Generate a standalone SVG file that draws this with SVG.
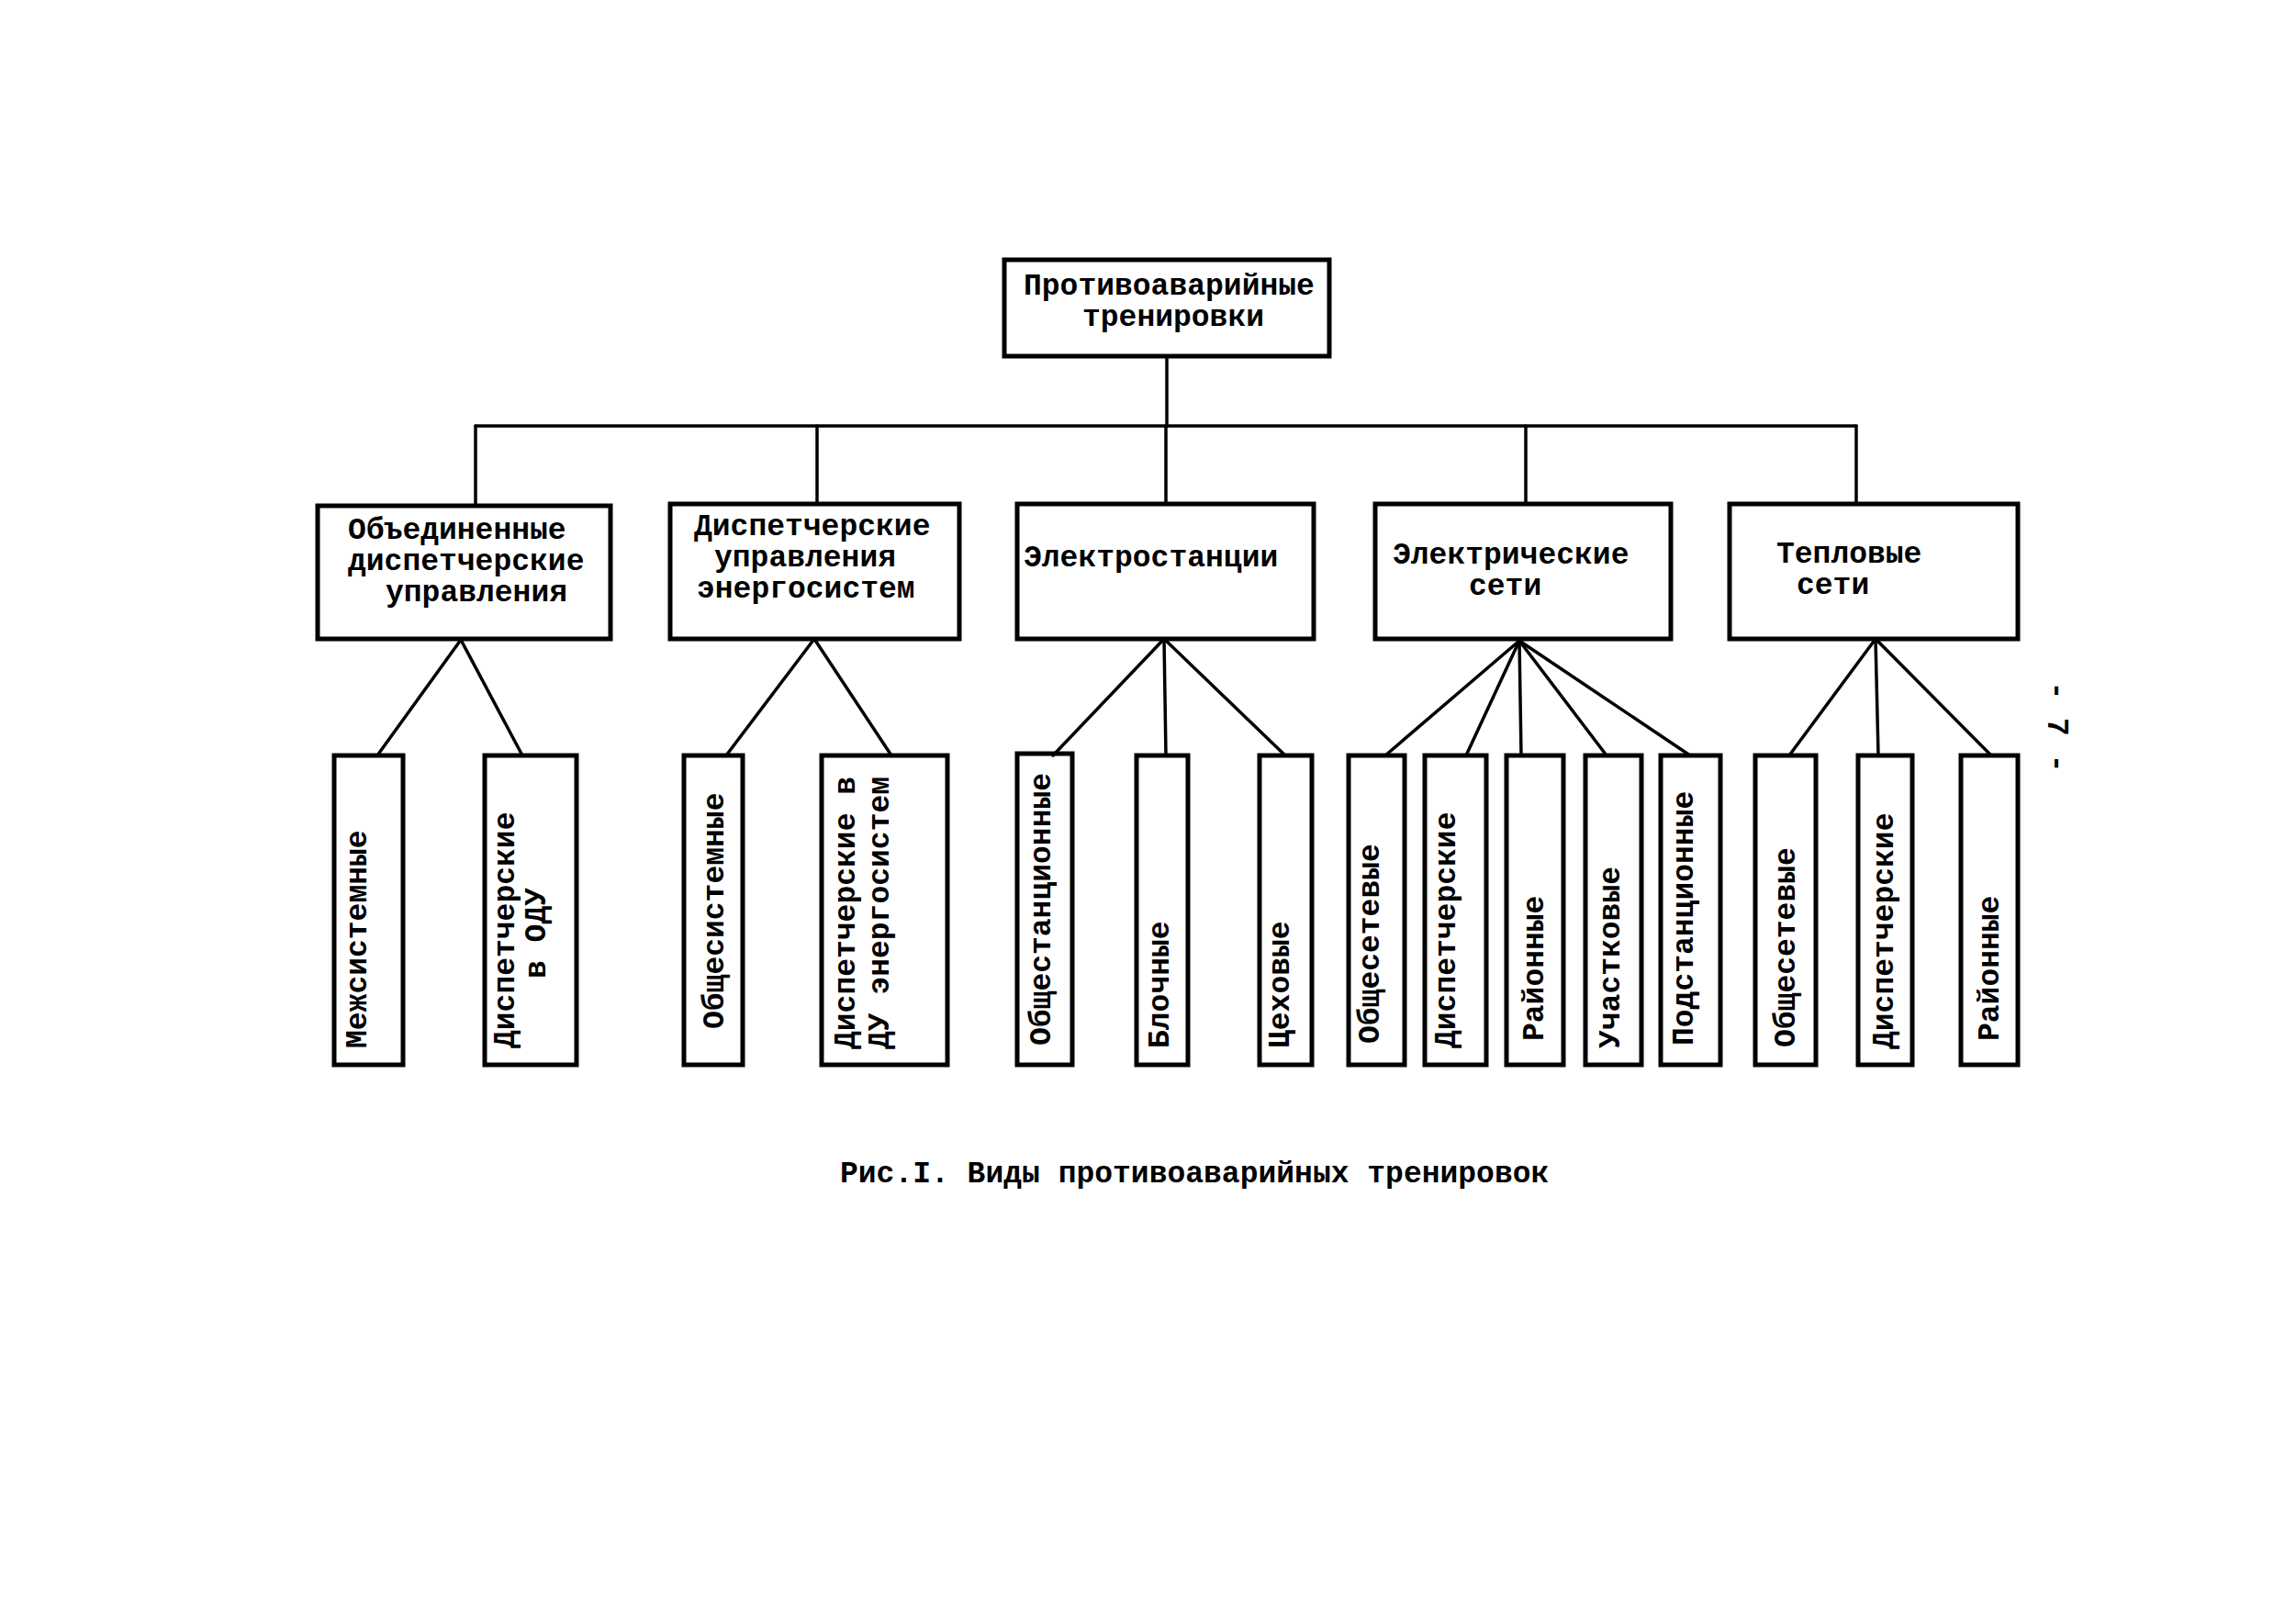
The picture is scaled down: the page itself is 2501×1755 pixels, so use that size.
<svg xmlns="http://www.w3.org/2000/svg" width="2501" height="1755" viewBox="0 0 2501 1755">
<style>
.box{fill:none;stroke:#000;stroke-width:5}
.con line{stroke:#000;stroke-width:3.5;stroke-linecap:round}
text{font-family:"Liberation Mono","DejaVu Sans Mono",monospace;font-size:33px;font-weight:bold;fill:#000}
</style>
<rect width="2501" height="1755" fill="#fff"/>
<g id="connectors" class="con">
<line x1="1271" y1="388" x2="1271" y2="464"/>
<line x1="518" y1="464" x2="2022" y2="464"/>
<line x1="518" y1="464" x2="518" y2="551"/>
<line x1="890" y1="464" x2="890" y2="549"/>
<line x1="1270" y1="464" x2="1270" y2="549"/>
<line x1="1662" y1="464" x2="1662" y2="549"/>
<line x1="2022" y1="464" x2="2022" y2="549"/>
<line x1="502" y1="697" x2="411" y2="823"/>
<line x1="502" y1="697" x2="569" y2="823"/>
<line x1="887" y1="696" x2="791" y2="823"/>
<line x1="887" y1="696" x2="971" y2="823"/>
<line x1="1268" y1="696" x2="1147" y2="823"/>
<line x1="1268" y1="696" x2="1270" y2="823"/>
<line x1="1268" y1="696" x2="1400" y2="823"/>
<line x1="1655" y1="698" x2="1509" y2="823"/>
<line x1="1655" y1="698" x2="1597" y2="823"/>
<line x1="1655" y1="698" x2="1657" y2="823"/>
<line x1="1655" y1="698" x2="1750" y2="823"/>
<line x1="1655" y1="698" x2="1841" y2="823"/>
<line x1="2043" y1="696" x2="1949" y2="823"/>
<line x1="2043" y1="696" x2="2046" y2="823"/>
<line x1="2043" y1="696" x2="2169" y2="823"/>
</g>
<g id="root">
<rect class="box" x="1094" y="283" width="354" height="105"/>
<text x="1115" y="321">Противоаварийные</text>
<text x="1179" y="355">тренировки</text>
</g>
<g id="odu">
<rect class="box" x="346" y="551" width="319" height="145"/>
<text x="379" y="587">Объединенные</text>
<text x="379" y="621">диспетчерские</text>
<text x="420" y="655">управления</text>
</g>
<g id="du">
<rect class="box" x="730" y="549" width="315" height="147"/>
<text x="756" y="583">Диспетчерские</text>
<text x="778" y="617">управления</text>
<text x="759" y="651">энергосистем</text>
</g>
<g id="es">
<rect class="box" x="1108" y="549" width="323" height="147"/>
<text x="1115" y="617">Электростанции</text>
</g>
<g id="el">
<rect class="box" x="1498" y="549" width="322" height="147"/>
<text x="1517" y="614">Электрические</text>
<text x="1600" y="648">сети</text>
</g>
<g id="tep">
<rect class="box" x="1884" y="549" width="314" height="147"/>
<text x="1935" y="613">Тепловые</text>
<text x="1957" y="647">сети</text>
</g>
<g id="c1"><rect class="box" x="364" y="823" width="75" height="337"/><text transform="translate(399,1142) rotate(-90)">Межсистемные</text></g>
<g id="c2"><rect class="box" x="528" y="823" width="100" height="337"/><text transform="translate(560,1142) rotate(-90)">Диспетчерские</text><text transform="translate(594,1066) rotate(-90)">в ОДУ</text></g>
<g id="c3"><rect class="box" x="745" y="823" width="64" height="337"/><text transform="translate(788,1121) rotate(-90)">Общесистемные</text></g>
<g id="c4"><rect class="box" x="895" y="823" width="137" height="337"/><text transform="translate(931,1143) rotate(-90)">Диспетчерские в</text><text transform="translate(968,1143) rotate(-90)">ДУ энергосистем</text></g>
<g id="c5"><rect class="box" x="1108" y="821" width="60" height="339"/><text transform="translate(1144,1139) rotate(-90)">Общестанционные</text></g>
<g id="c6"><rect class="box" x="1238" y="823" width="56" height="337"/><text transform="translate(1273,1142) rotate(-90)">Блочные</text></g>
<g id="c7"><rect class="box" x="1372" y="823" width="57" height="337"/><text transform="translate(1404,1142) rotate(-90)">Цеховые</text></g>
<g id="c8"><rect class="box" x="1469" y="823" width="61" height="337"/><text transform="translate(1502,1137) rotate(-90)">Общесетевые</text></g>
<g id="c9"><rect class="box" x="1552" y="823" width="67" height="337"/><text transform="translate(1585,1142) rotate(-90)">Диспетчерские</text></g>
<g id="c10"><rect class="box" x="1641" y="823" width="62" height="337"/><text transform="translate(1681,1134) rotate(-90)">Районные</text></g>
<g id="c11"><rect class="box" x="1727" y="823" width="61" height="337"/><text transform="translate(1764,1142) rotate(-90)">Участковые</text></g>
<g id="c12"><rect class="box" x="1809" y="823" width="65" height="337"/><text transform="translate(1844,1139) rotate(-90)">Подстанционные</text></g>
<g id="c13"><rect class="box" x="1912" y="823" width="66" height="337"/><text transform="translate(1955,1141) rotate(-90)">Общесетевые</text></g>
<g id="c14"><rect class="box" x="2024" y="823" width="59" height="337"/><text transform="translate(2062,1143) rotate(-90)">Диспетчерские</text></g>
<g id="c15"><rect class="box" x="2136" y="823" width="62" height="337"/><text transform="translate(2177,1134) rotate(-90)">Районные</text></g>
<text x="915" y="1288">Рис.I. Виды противоаварийных тренировок</text>
<text transform="translate(2231,792) rotate(90)" text-anchor="middle">- 7 -</text>
</svg>
